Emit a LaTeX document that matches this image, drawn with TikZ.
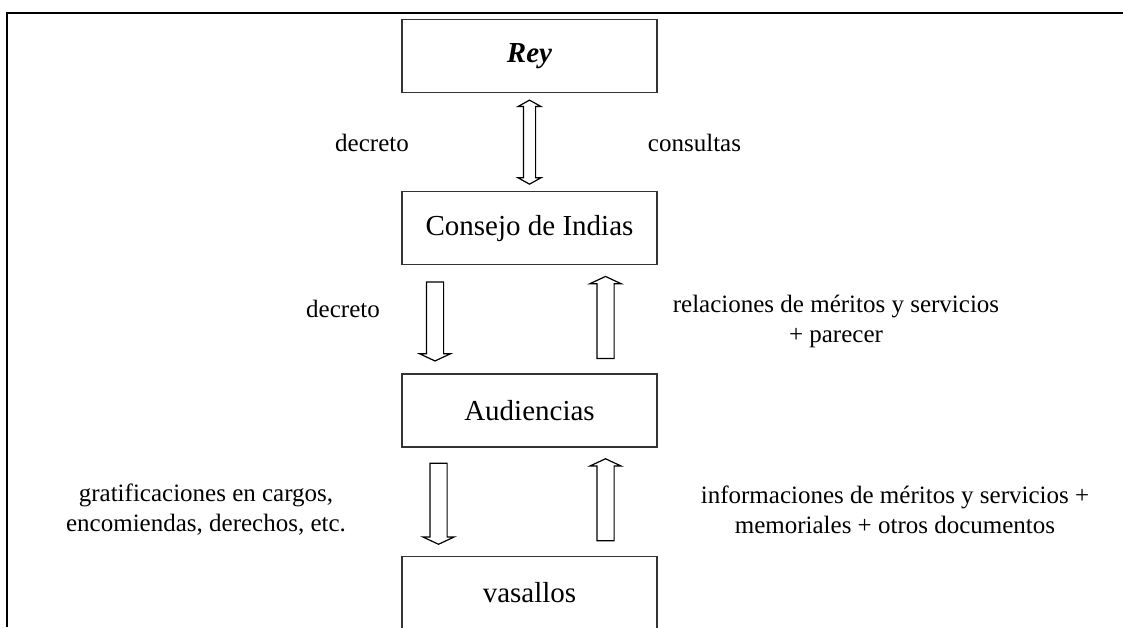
\documentclass[tikz,border=0pt]{standalone}
\usepackage{fontspec}
\setmainfont{Liberation Serif}
\usepackage{tikz}
\newcommand{\boxfont}{\fontsize{29}{32}\selectfont}
\newcommand{\lblfont}{\fontsize{25}{30}\selectfont}

\begin{document}
\begin{tikzpicture}[x=1pt,y=-1pt,
	caja/.style={draw=black!80,line width=1.3pt,minimum width=255pt,minimum height=73pt,font=\boxfont},
	lbl/.style={align=center,font=\lblfont,inner sep=0pt},
	flechab/.style={single arrow,draw,line width=1.2pt,inner sep=8pt,
		single arrow head extend=7pt,single arrow head indent=0pt,single arrow tip angle=130},
	baja/.style={flechab,shape border rotate=270},
	sube/.style={flechab,shape border rotate=90}]
	\usetikzlibrary{positioning,calc,shapes.arrows}
	
	\useasboundingbox (0,0) rectangle (1123,627);
	\draw[line width=2.5pt] (1123,13) -- (7,13) -- (7,627);
	
	\node[caja] at (529.5,56) (rey) {\textbf{\textit{Rey}}};
	\node[caja,below=98pt of rey] (consejo) {Consejo de Indias};
	\node[caja,below=108pt of consejo] (aud) {Audiencias};
	\node[caja,below=108pt of aud] (vas) {vasallos};
	
	\node[double arrow,draw,line width=1.2pt,inner sep=5.5pt,minimum height=84pt,
		double arrow head extend=5.5pt,double arrow head indent=0pt,double arrow tip angle=122,
		shape border rotate=90] at ($(rey.south)!0.5!(consejo.north)$) (a1) {};
	
	\node[baja,minimum height=79pt] at ($(consejo.south)!0.5!(aud.north)+(-94.5,0)$) (a2) {};
	\node[sube,minimum height=82pt] at ($(consejo.south)!0.5!(aud.north)+(76,0)$) (a3) {};
	\node[baja,minimum height=81pt] at ($(aud.south)!0.5!(vas.north)+(-91,0)$) (a4) {};
	\node[sube,minimum height=82pt] at ($(aud.south)!0.5!(vas.north)+(76,0)$) (a5) {};
	
	\node[lbl] at (372,143) (l1) {decreto};
	\node[lbl] at (694.5,143) (l2) {consultas};
	\node[lbl] at (343,309) (l3) {decreto};
	\node[lbl] at (836,321) (l4) {relaciones de méritos y servicios\\+ parecer};
	\node[lbl] at (206,510) (l5) {gratificaciones en cargos,\\encomiendas, derechos, etc.};
	\node[lbl] at (895,510) (l6) {informaciones de méritos y servicios +\\memoriales + otros documentos};
\end{tikzpicture}
\end{document}
